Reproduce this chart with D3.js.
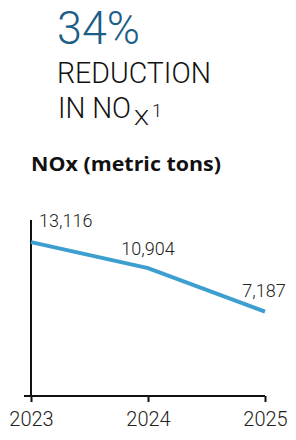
<!DOCTYPE html>
<html>
<head>
<meta charset="utf-8">
<script src="https://cdn.jsdelivr.net/npm/d3@7"></script>
<style>
  body { margin: 0; background: #fff; }
  text { font-family: Roboto, "Noto Sans", sans-serif; font-weight: 300; }
</style>
</head>
<body>
<div id="chart"></div>
<script>
const years = ["2023", "2024", "2025"];
const values = [13116, 10904, 7187];
const valueLabels = ["13,116", "10,904", "7,187"];
const yMax = 15000;

const W = 296, H = 440;
const margin = { top: 220, right: 31, bottom: 44, left: 31 },
      width = W - margin.left - margin.right,
      height = H - margin.top - margin.bottom;

const root = d3.select("#chart")
  .append("svg")
  .attr("width", W)
  .attr("height", H);

// headline
root.append("text")
  .attr("x", 57)
  .attr("y", 44)
  .attr("fill", "#1b5e87")
  .style("font-size", "46px")
  .attr("textLength", 83)
  .attr("lengthAdjust", "spacingAndGlyphs")
  .text("34%");

root.append("text")
  .attr("x", 57)
  .attr("y", 83)
  .attr("fill", "#111")
  .style("font-size", "30px")
  .attr("textLength", 154)
  .attr("lengthAdjust", "spacingAndGlyphs")
  .text("REDUCTION");

root.append("text")
  .attr("x", 58)
  .attr("y", 118)
  .attr("fill", "#111")
  .style("font-size", "30px")
  .attr("textLength", 73)
  .attr("lengthAdjust", "spacingAndGlyphs")
  .text("IN NO");

root.append("text")
  .attr("x", 134)
  .attr("y", 125)
  .attr("fill", "#111")
  .style("font-size", "21px")
  .attr("textLength", 15)
  .attr("lengthAdjust", "spacingAndGlyphs")
  .text("X");

root.append("text")
  .attr("x", 152)
  .attr("y", 117)
  .attr("fill", "#111")
  .style("font-size", "18px")
  .text("1");

root.append("text")
  .attr("x", 31)
  .attr("y", 171)
  .attr("fill", "#111")
  .style("font-size", "19px")
  .style("font-weight", "bold")
  .style("font-family", "'Open Sans', sans-serif")
  .attr("textLength", 190)
  .attr("lengthAdjust", "spacingAndGlyphs")
  .text("NOx (metric tons)");

const svg = root.append("g")
  .attr("transform", `translate(${margin.left},${margin.top})`);

const x = d3.scalePoint()
  .domain(years)
  .range([0, width]);

const y = d3.scaleLinear()
  .domain([0, yMax])
  .range([height, 0]);

// y axis line (no ticks)
svg.append("line")
  .attr("x1", 0).attr("x2", 0)
  .attr("y1", y(yMax)).attr("y2", height)
  .attr("stroke", "#111")
  .attr("stroke-width", 2);

const xAxis = svg.append("g")
  .attr("transform", `translate(0,${height})`)
  .call(d3.axisBottom(x).tickSize(6).tickPadding(10).tickSizeOuter(0));

xAxis.select(".domain")
  .attr("d", `M-7,0H${width}`)
  .attr("stroke", "#111")
  .attr("stroke-width", 2);
xAxis.selectAll(".tick line")
  .attr("stroke", "#111")
  .attr("stroke-width", 2);
xAxis.selectAll(".tick text")
  .style("font-family", "Roboto, sans-serif")
  .style("font-weight", "300")
  .style("font-size", "20px")
  .attr("fill", "#222");

const line = d3.line()
  .x((d, i) => x(years[i]))
  .y(d => y(d));

svg.append("path")
  .datum(values)
  .attr("fill", "none")
  .attr("stroke", "#3d9fcf")
  .attr("stroke-width", 4)
  .attr("d", line);

// value labels
const labelDx = [8, 0, -1];
const labelDy = [-15, -13, -15];
const anchors = ["start", "middle", "middle"];
svg.selectAll(".vlabel")
  .data(values)
  .enter()
  .append("text")
  .attr("class", "vlabel")
  .attr("x", (d, i) => x(years[i]) + labelDx[i])
  .attr("y", (d, i) => y(d) + labelDy[i])
  .attr("text-anchor", (d, i) => anchors[i])
  .attr("fill", "#222")
  .style("font-size", "18px")
  .text((d, i) => valueLabels[i]);
</script>
</body>
</html>
